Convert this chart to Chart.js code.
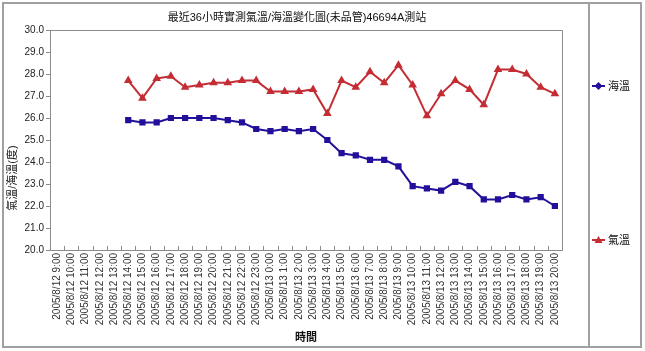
<!DOCTYPE html>
<html lang="zh-Hant">
<head>
  <meta charset="UTF-8">
  <title>最近36小時實測氣溫/海溫變化圖</title>
  <script src="https://cdn.jsdelivr.net/npm/chart.js"></script>
  <style>
    html, body { margin: 0; padding: 0; background: #fff; }
    #wrap { position: relative; width: 645px; height: 351px; }
  </style>
</head>
<body>
  <div id="wrap"><canvas id="tempChart" width="645" height="351"></canvas></div>

  <script>
    // hourly categories, 2005/8/12 9:00 .. 2005/8/13 20:00
    const hours = [
      '2005/8/12 9:00', '2005/8/12 10:00', '2005/8/12 11:00', '2005/8/12 12:00',
      '2005/8/12 13:00', '2005/8/12 14:00', '2005/8/12 15:00', '2005/8/12 16:00',
      '2005/8/12 17:00', '2005/8/12 18:00', '2005/8/12 19:00', '2005/8/12 20:00',
      '2005/8/12 21:00', '2005/8/12 22:00', '2005/8/12 23:00', '2005/8/13 0:00',
      '2005/8/13 1:00', '2005/8/13 2:00', '2005/8/13 3:00', '2005/8/13 4:00',
      '2005/8/13 5:00', '2005/8/13 6:00', '2005/8/13 7:00', '2005/8/13 8:00',
      '2005/8/13 9:00', '2005/8/13 10:00', '2005/8/13 11:00', '2005/8/13 12:00',
      '2005/8/13 13:00', '2005/8/13 14:00', '2005/8/13 15:00', '2005/8/13 16:00',
      '2005/8/13 17:00', '2005/8/13 18:00', '2005/8/13 19:00', '2005/8/13 20:00'
    ];

    // sea temperature (海溫), no readings before 14:00
    const seaTemp = [
      null, null, null, null, null,
      25.9, 25.8, 25.8, 26.0, 26.0, 26.0, 26.0, 25.9, 25.8, 25.5,
      25.4, 25.5, 25.4, 25.5, 25.0, 24.4, 24.3, 24.1, 24.1, 23.8,
      22.9, 22.8, 22.7, 23.1, 22.9, 22.3, 22.3, 22.5, 22.3, 22.4, 22.0
    ];

    // air temperature (氣溫)
    const airTemp = [
      null, null, null, null, null,
      27.7, 26.9, 27.8, 27.9, 27.4, 27.5, 27.6, 27.6, 27.7, 27.7,
      27.2, 27.2, 27.2, 27.3, 26.2, 27.7, 27.4, 28.1, 27.6, 28.4,
      27.5, 26.1, 27.1, 27.7, 27.3, 26.6, 28.2, 28.2, 28.0, 27.4, 27.1
    ];

    const seriesNames = ['海溫', '氣溫'];
    const chartTitle = '最近36小時實測氣溫/海溫變化圖(未品管)46694A測站';
    const yTitle = '氣溫/海溫(度)';

    const FONT = '"Liberation Sans", Arial, "Noto Sans CJK TC", sans-serif';
    const GRAY = '#8c8c8c';
    const BLUE = '#22109a';
    const RED = '#c42d33';

    // frame, titles, plot border, inner x ticks and the side legend
    const decor = {
      id: 'decor',
      beforeDraw(chart) {
        const ctx = chart.ctx;
        ctx.save();
        ctx.fillStyle = '#fff';
        ctx.fillRect(0, 0, chart.width, chart.height);
        ctx.restore();
      },
      afterDraw(chart) {
        const ctx = chart.ctx;
        const a = chart.chartArea;
        ctx.save();

        // outer frame + legend box
        ctx.strokeStyle = '#a0a0a0';
        ctx.lineWidth = 2;
        ctx.strokeRect(3, 3, 638, 344);
        ctx.beginPath();
        ctx.moveTo(589, 3);
        ctx.lineTo(589, 347);
        ctx.stroke();

        // plot border top / right
        ctx.strokeStyle = GRAY;
        ctx.lineWidth = 1;
        ctx.beginPath();
        ctx.moveTo(a.left, a.top + 0.5);
        ctx.lineTo(a.right + 0.5, a.top + 0.5);
        ctx.lineTo(a.right + 0.5, a.bottom);
        ctx.stroke();

        // tick marks between categories, pointing up into the plot
        const xs = chart.scales.x;
        const step = xs.getPixelForValue(1) - xs.getPixelForValue(0);
        ctx.beginPath();
        for (let i = 0; i <= hours.length; i++) {
          const px = Math.round(xs.getPixelForValue(i) - step / 2) + 0.5;
          ctx.moveTo(px, a.bottom);
          ctx.lineTo(px, a.bottom - 4);
        }
        ctx.stroke();

        // chart title
        ctx.fillStyle = '#111';
        ctx.font = '11px ' + FONT;
        ctx.textAlign = 'center';
        ctx.textBaseline = 'middle';
        ctx.fillText(chartTitle, 297, 18);

        // y axis title, sits a little below the middle like the original
        ctx.save();
        ctx.translate(13, 178);
        ctx.rotate(-Math.PI / 2);
        ctx.fillText(yTitle, 0, 0);
        ctx.restore();

        // legend
        const entries = [
          { ds: chart.data.datasets[0], y: 86 },
          { ds: chart.data.datasets[1], y: 240 }
        ];
        entries.forEach(e => {
          ctx.strokeStyle = e.ds.borderColor;
          ctx.fillStyle = e.ds.borderColor;
          ctx.lineWidth = 2;
          ctx.beginPath();
          ctx.moveTo(592, e.y);
          ctx.lineTo(605, e.y);
          ctx.stroke();
          ctx.beginPath();
          if (e.ds.pointStyle === 'triangle') {
            ctx.moveTo(598.5, e.y - 4);
            ctx.lineTo(602.5, e.y + 3);
            ctx.lineTo(594.5, e.y + 3);
          } else {
            ctx.moveTo(598.5, e.y - 4);
            ctx.lineTo(602.5, e.y);
            ctx.lineTo(598.5, e.y + 4);
            ctx.lineTo(594.5, e.y);
          }
          ctx.closePath();
          ctx.fill();
          ctx.fillStyle = '#111';
          ctx.font = '11px ' + FONT;
          ctx.textAlign = 'left';
          ctx.fillText(e.ds.label, 608, e.y + 1);
        });

        ctx.restore();
      }
    };

    const chart = new Chart(document.getElementById('tempChart'), {
      type: 'line',
      data: {
        labels: hours,
        datasets: [
          {
            label: seriesNames[0],
            data: seaTemp,
            borderColor: BLUE,
            backgroundColor: BLUE,
            borderWidth: 2,
            pointStyle: 'rect',
            pointRadius: 3,
            pointHoverRadius: 3,
            tension: 0
          },
          {
            label: seriesNames[1],
            data: airTemp,
            borderColor: RED,
            backgroundColor: RED,
            borderWidth: 2,
            pointStyle: 'triangle',
            pointRadius: 3,
            pointHoverRadius: 3,
            tension: 0
          }
        ]
      },
      options: {
        responsive: false,
        animation: false,
        events: [],
        layout: { padding: { left: 0, right: 83, top: 30, bottom: 0 } },
        plugins: {
          legend: { display: false },
          title: { display: false },
          tooltip: { enabled: false }
        },
        scales: {
          x: {
            offset: true,
            grid: { display: true, drawOnChartArea: false, drawTicks: false, color: GRAY },
            border: { color: GRAY, width: 1 },
            ticks: {
              autoSkip: false,
              minRotation: 90,
              maxRotation: 90,
              padding: 3,
              color: '#333',
              font: { family: FONT, size: 10 }
            },
            title: {
              display: true,
              text: '時間',
              color: '#111',
              font: { family: FONT, size: 11, weight: 'bold' },
              padding: { top: 0, bottom: 6 }
            },
            afterFit(scale) { scale.height = 101; }
          },
          y: {
            min: 20,
            max: 30,
            grid: { drawOnChartArea: false, drawTicks: true, tickLength: 4, color: GRAY },
            border: { color: GRAY, width: 1 },
            ticks: {
              stepSize: 1,
              padding: 2,
              color: '#222',
              font: { family: FONT, size: 10 },
              callback: v => Number(v).toFixed(1)
            },
            afterFit(scale) { scale.width = 50; }
          }
        }
      },
      plugins: [decor]
    });
  </script>
</body>
</html>
